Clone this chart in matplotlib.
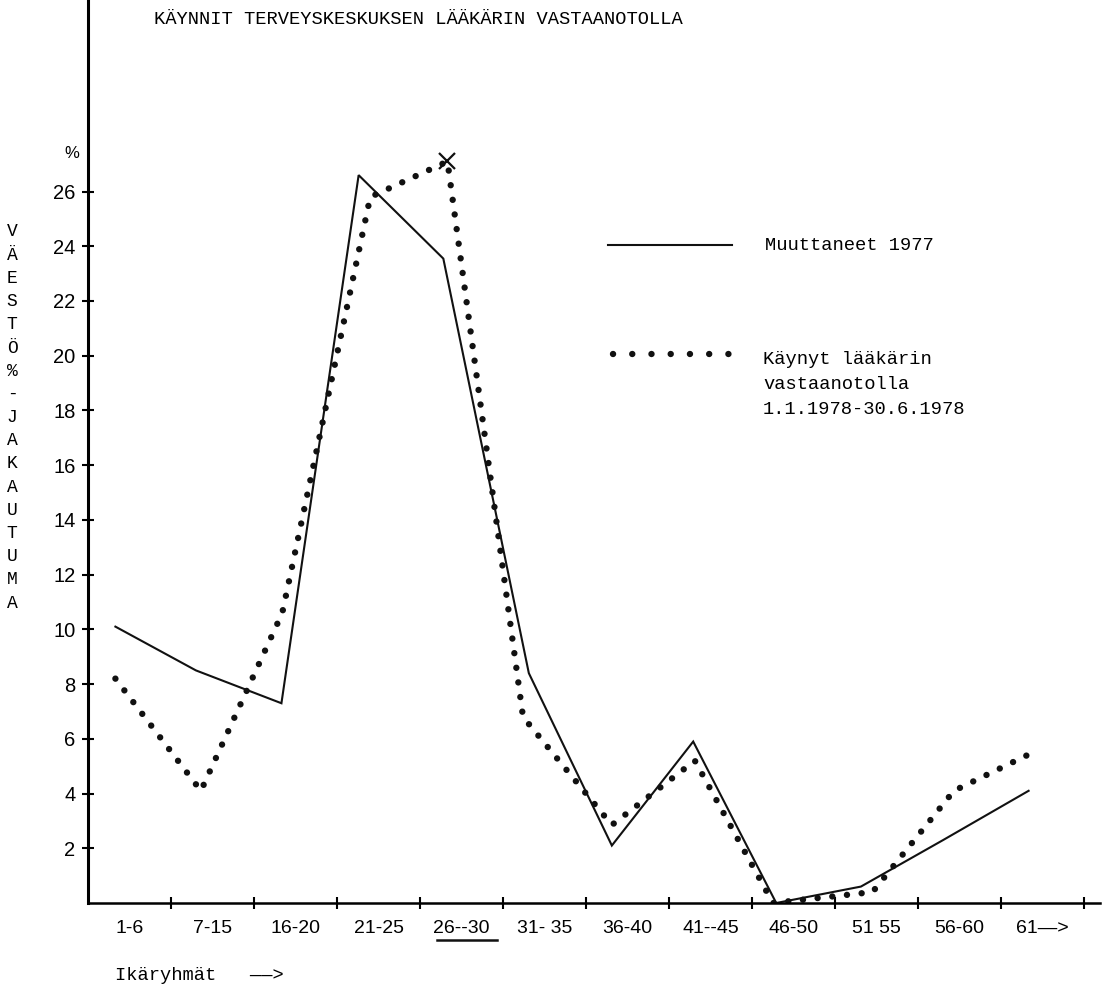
import numpy as np
import matplotlib.pyplot as plt

# age groups on the x axis
age_groups = ["1-6", "7-15", "16-20", "21-25", "26--30", "31- 35", "36-40",
              "41--45", "46-50", "51 55", "56-60", "61—>"]

# Muuttaneet 1977 (%), plotted position of each point in age-group units
moved_pos = [0.33, 1.3, 2.33, 3.26, 4.28, 5.31, 6.31, 7.29, 8.29, 9.31, 10.3, 11.33]
moved_1977 = [10.1, 8.5, 7.3, 26.6, 23.55, 8.4, 2.1, 5.9, 0.0, 0.6, 2.3, 4.1]

# Käynyt lääkärin vastaanotolla 1.1.1978-30.6.1978 (%)
visit_pos = [0.33, 1.36, 2.34, 3.4, 4.33, 5.24, 6.31, 7.31, 8.25, 9.45, 10.43, 11.38]
visits_1978 = [8.2, 4.1, 10.6, 25.8, 27.1, 6.8, 2.85, 5.2, 0.0, 0.4, 4.1, 5.5]

y_ticks = [2, 4, 6, 8, 10, 12, 14, 16, 18, 20, 22, 24, 26]

W, H = 1108, 986
fig = plt.figure(figsize=(W / 100, H / 100), dpi=100, facecolor='w')
ax = fig.add_axes([88 / W, 1 - 903 / H, 1012 / W, 903 / H])

ax.plot(moved_pos, moved_1977, color='#111111', lw=1.5, solid_joinstyle='miter')
ax.plot(visit_pos, visits_1978, color='#111111', lw=4.6,
        linestyle=(0, (0.01, 2.3)), dash_capstyle='round')
# cross on the highest visit value
peak = int(np.argmax(visits_1978))
ax.plot(visit_pos[peak], visits_1978[peak], marker='x', ms=11, mew=1.6, color='#111111')

ax.set_xlim(0, 12.19)
ax.set_ylim(0, 33.0)

mono = 'Liberation Mono'
sans = 'Liberation Sans'

ax.set_yticks(y_ticks)
ax.set_yticklabels([str(v) for v in y_ticks], fontsize=14.5, family=sans)
ax.tick_params(axis='y', direction='inout', length=8, width=1.5, pad=5)

ax.set_xticks(np.arange(len(age_groups)) + 0.5)
ax.set_xticklabels(age_groups, fontsize=14, family=sans)
ax.set_xticks(np.arange(1, len(age_groups) + 1), minor=True)
ax.tick_params(axis='x', which='major', length=0, pad=12)
ax.tick_params(axis='x', which='minor', direction='inout', length=8, width=1.5)

for s in ('top', 'right'):
    ax.spines[s].set_visible(False)
ax.spines['left'].set_linewidth(2.2)
ax.spines['bottom'].set_linewidth(1.8)

# underline under 26--30
ax.plot([4.2, 4.93], [-0.041, -0.041], color='#111111', lw=1.8,
        transform=ax.get_xaxis_transform(), clip_on=False)

# legend drawn by hand
def fx(px):
    return (px - 88) / 1012

def fy(py):
    return (903 - py) / 903

ax.plot([fx(608), fx(732)], [fy(245), fy(245)], color='#111111', lw=1.5,
        transform=ax.transAxes)
ax.plot([fx(613), fx(732)], [fy(354), fy(354)], color='#111111', lw=4.6,
        linestyle=(0, (0.01, 3.0)), dash_capstyle='round', transform=ax.transAxes)
ax.text(fx(765), fy(245), "Muuttaneet 1977", transform=ax.transAxes,
        family=mono, fontsize=13.5, va='center', ha='left')
ax.text(fx(763), fy(351), "Käynyt lääkärin\nvastaanotolla\n1.1.1978-30.6.1978",
        transform=ax.transAxes, family=mono, fontsize=13.5, va='top', ha='left',
        linespacing=1.6)

# title, axis texts
fig.text(154 / W, 1 - 20 / H, "KÄYNNIT TERVEYSKESKUKSEN LÄÄKÄRIN VASTAANOTOLLA",
         family=mono, fontsize=13.5, va='center', ha='left')
fig.text(115 / W, 1 - 975 / H, "Ikäryhmät   ——>", family=mono, fontsize=13.5,
         va='center', ha='left')
fig.text(72 / W, 1 - 153 / H, "%", family=sans, fontsize=12, va='center', ha='center')

ylabel = "VÄESTÖ%-JAKAUTUMA"
for i, ch in enumerate(ylabel):
    fig.text(12 / W, 1 - (232 + i * 23.2) / H, ch, family=mono, fontsize=13,
             va='center', ha='center')

plt.savefig('out.png', dpi=100)
